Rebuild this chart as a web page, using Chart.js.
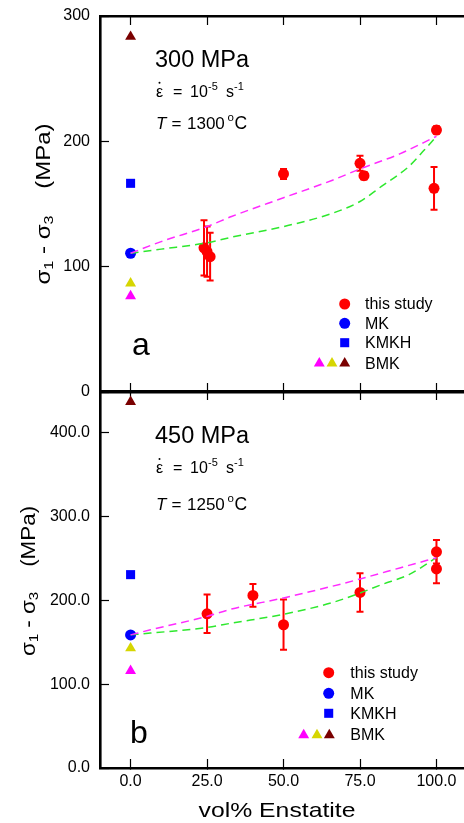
<!DOCTYPE html>
<html>
<head>
<meta charset="utf-8">
<script src="https://cdn.jsdelivr.net/npm/chart.js@4.4.0/dist/chart.umd.min.js"></script>
<style>
  html, body { margin: 0; padding: 0; background: #fff; }
  body { width: 464px; height: 823px; position: relative; overflow: hidden; }
  canvas { position: absolute; left: 0; }
  #chartA { top: 0; }
  #chartB { top: 384px; }
</style>
</head>
<body>
<canvas id="chartA" width="464" height="400"></canvas>
<canvas id="chartB" width="464" height="439"></canvas>
<script>
const FONT = "'Liberation Sans', Arial, Helvetica, sans-serif";

// x axis (vol% Enstatite)
const xMin = -10, xMax = 109, xStep = 25;

// panel a : 300 MPa, 1300 C
const studyA_x = [24, 25, 26, 50, 75, 76.3, 99.2, 100];
const studyA_y = [115, 112, 108, 174, 182.5, 172.6, 162.5, 209];
const studyA_err = [22, 20, 19, 4, 6, 3, 17, 3];
const mkA = [110.7];
const kmkhA = [166.5];
const bmkA = [76.6, 86.7, 283.5];
const pinkA_x = [0, 10, 25, 33, 50, 66, 75, 88, 100];
const pinkA_y = [110.7, 120, 132, 140, 155, 169, 178, 190, 204];
const greenA_x = [0, 10, 25, 33, 50, 66, 75, 82, 91, 96, 100];
const greenA_y = [110.7, 114, 119, 123.5, 132, 142.6, 152, 164, 180, 193, 204];

// panel b : 450 MPa, 1250 C
const studyB_x = [25, 40, 50, 75, 100, 100];
const studyB_y = [184, 206, 171, 209.6, 258, 237.6];
const studyB_err = [23, 13.5, 30, 23, 14, 17];
const mkB = [158.9];
const kmkhB = [230.8];
const bmkB = [116, 143, 437];
const pinkB_x = [0, 6.5, 25, 33, 50, 66, 75, 88, 100];
const pinkB_y = [158.9, 165, 181, 189.7, 203, 217, 225.6, 238.8, 251];
const greenB_x = [0, 6.5, 25, 33, 50, 66, 75, 82, 91, 100];
const greenB_y = [158.9, 161, 167.7, 172.9, 183.5, 197.5, 208.8, 218.8, 230.8, 251];

const bmkColors = ['#ff00ff', '#d6d600', '#7a0000'];

const pts = (xs, ys) => xs.map((x, i) => ({ x: x, y: ys[i] }));

function makeDatasets(sx, sy, serr, mk, kmkh, bmk, px, py, gx, gy) {
  return [
    { label: 'pink', data: pts(px, py), showLine: true, borderColor: '#ff2bff', borderWidth: 1.5,
      borderDash: [8, 5], pointRadius: 0, cubicInterpolationMode: 'monotone', order: 0 },
    { label: 'green', data: pts(gx, gy), showLine: true, borderColor: '#2ee82e', borderWidth: 1.5,
      borderDash: [8, 5], pointRadius: 0, cubicInterpolationMode: 'monotone', order: 0 },
    { label: 'this study', data: pts(sx, sy), errors: serr, pointStyle: 'circle', pointRadius: 5.5,
      backgroundColor: '#ff0000', borderWidth: 0, order: 1 },
    { label: 'MK', data: mk.map(v => ({ x: 0, y: v })), pointStyle: 'circle', pointRadius: 5.5,
      backgroundColor: '#0000ff', borderWidth: 0, order: 1 },
    { label: 'KMKH', data: kmkh.map(v => ({ x: 0, y: v })), pointStyle: 'rect', pointRadius: 6.4,
      backgroundColor: '#0000ff', borderWidth: 0, order: 1 },
    { label: 'BMK', data: bmk.map(v => ({ x: 0, y: v })), pointStyle: 'triangle', pointRadius: 6.3,
      backgroundColor: bmkColors, borderWidth: 0, order: 1 }
  ];
}

// error bars for "this study"
const errorBars = {
  id: 'errorBars',
  beforeDatasetsDraw(chart) {
    const ctx = chart.ctx;
    const y = chart.scales.y;
    chart.data.datasets.forEach((ds, i) => {
      if (!ds.errors) return;
      const meta = chart.getDatasetMeta(i);
      ctx.save();
      ctx.strokeStyle = '#ff0000';
      ctx.lineWidth = 2;
      meta.data.forEach((p, j) => {
        const v = ds.data[j].y, e = ds.errors[j];
        const top = y.getPixelForValue(v + e), bot = y.getPixelForValue(v - e);
        ctx.beginPath();
        ctx.moveTo(p.x, top); ctx.lineTo(p.x, bot);
        ctx.moveTo(p.x - 3.5, top); ctx.lineTo(p.x + 3.5, top);
        ctx.moveTo(p.x - 3.5, bot); ctx.lineTo(p.x + 3.5, bot);
        ctx.stroke();
      });
      ctx.restore();
    });
  }
};

function drawParts(ctx, bx, by, parts, sx) {
  parts.forEach(p => {
    ctx.save();
    ctx.translate(bx + p.dx, by + (p.dy || 0));
    ctx.scale(sx || 1, 1);
    ctx.font = (p.italic ? 'italic ' : '') + p.size + 'px ' + FONT;
    ctx.fillText(p.t, 0, 0);
    ctx.restore();
  });
}

function panelText(L) {
  return {
    id: 'panelText',
    afterDraw(chart) {
      const ctx = chart.ctx;
      ctx.save();
      ctx.fillStyle = '#000';
      ctx.textAlign = 'left';
      ctx.textBaseline = 'alphabetic';

      drawParts(ctx, L.tx - 1, L.pressY, [{ t: L.pressure, dx: 0, size: 23.5 }]);

      drawParts(ctx, L.tx, L.rateY, [
        { t: 'ε', dx: 0, size: 16 },
        { t: '=', dx: 17, size: 16 },
        { t: '10', dx: 34, size: 16 },
        { t: '-5', dx: 52, size: 11, dy: -7 },
        { t: 's', dx: 70, size: 16 },
        { t: '-1', dx: 78, size: 11, dy: -7 }
      ]);
      ctx.beginPath();
      ctx.arc(L.tx + 3.5, L.rateY - 14, 1, 0, Math.PI * 2);
      ctx.fill();

      drawParts(ctx, L.tx, L.tempY, [
        { t: 'T', dx: 0, size: 17, italic: true },
        { t: '=', dx: 15.5, size: 17 },
        { t: L.temp, dx: 31, size: 17 },
        { t: 'o', dx: 71.5, size: 11.5, dy: -8 },
        { t: 'C', dx: 78.5, size: 17.5 }
      ]);

      drawParts(ctx, L.letterX, L.letterY, [{ t: L.letter, dx: 0, size: 32 }]);

      // legend
      const H = Chart.helpers;
      const rows = L.legRows;
      ctx.font = '16px ' + FONT;
      ctx.textBaseline = 'middle';
      ['this study', 'MK', 'KMKH', 'BMK'].forEach((t, i) => ctx.fillText(t, L.legTextX, rows[i] + 1));
      ctx.fillStyle = '#ff0000';
      H.drawPoint(ctx, { pointStyle: 'circle', radius: 5.5, rotation: 0, borderWidth: 0 }, L.legX, rows[0]);
      ctx.fillStyle = '#0000ff';
      H.drawPoint(ctx, { pointStyle: 'circle', radius: 5.5, rotation: 0, borderWidth: 0 }, L.legX, rows[1]);
      H.drawPoint(ctx, { pointStyle: 'rect', radius: 6.4, rotation: 0, borderWidth: 0 }, L.legX, rows[2]);
      L.legTri.forEach((tx, i) => {
        ctx.fillStyle = bmkColors[i];
        H.drawPoint(ctx, { pointStyle: 'triangle', radius: 6.3, rotation: 0, borderWidth: 0 }, tx, rows[3]);
      });

      // y title (rotated)
      ctx.fillStyle = '#000';
      ctx.translate(L.yTitleX, L.yTitleY);
      ctx.rotate(-Math.PI / 2);
      ctx.scale(L.yTitleStretch, 1);
      const parts = [
        { t: 'σ', size: 20 }, { t: '1', size: 13.5, dy: 5 }, { t: ' - ', size: 20 },
        { t: 'σ', size: 20 }, { t: '3', size: 13.5, dy: 5 }, { t: '    (MPa)', size: 20 }
      ];
      let w = 0;
      parts.forEach(p => { ctx.font = p.size + 'px ' + FONT; p.dx = w; w += ctx.measureText(p.t).width; });
      drawParts(ctx, -w / 2, 0, parts);
      ctx.setTransform(1, 0, 0, 1, 0, 0);

      if (L.xTitle) {
        ctx.textAlign = 'center';
        ctx.textBaseline = 'alphabetic';
        ctx.translate(L.xTitleX, L.xTitleY);
        ctx.scale(1.18, 1);
        ctx.font = '21px ' + FONT;
        ctx.fillText(L.xTitle, 0, 0);
        ctx.setTransform(1, 0, 0, 1, 0, 0);
      }
      ctx.restore();
    }
  };
}

function xAxis(pos, labels, h) {
  return {
    type: 'linear', position: pos, min: xMin, max: xMax,
    border: { color: '#000', width: 2.6 },
    grid: { drawOnChartArea: false, drawTicks: true, tickLength: -9, tickColor: '#000', tickWidth: 1.2 },
    ticks: { display: labels, stepSize: xStep, includeBounds: false, autoSkip: false, maxRotation: 0,
      color: '#000', font: { family: FONT, size: 16 }, padding: 13, callback: v => v.toFixed(1) },
    afterFit: s => { s.height = h; s.paddingLeft = 0; s.paddingRight = 0; }
  };
}

function makePanel(id, yMax, decimals, topH, botH, showX, datasets, L) {
  return new Chart(document.getElementById(id), {
    type: 'scatter',
    data: { datasets: datasets },
    options: {
      responsive: false,
      animation: false,
      events: [],
      layout: { padding: 0, autoPadding: false },
      plugins: { legend: { display: false }, tooltip: { enabled: false } },
      scales: {
        x: xAxis('bottom', showX, botH),
        x2: xAxis('top', false, topH),
        y: {
          type: 'linear', position: 'left', min: 0, max: yMax,
          border: { color: '#000', width: 2.6 },
          grid: { drawOnChartArea: false, drawTicks: true, tickLength: -9, tickColor: '#000', tickWidth: 1.2 },
          ticks: { stepSize: 100, includeBounds: false, color: '#000', font: { family: FONT, size: 16 }, padding: 19,
            callback: v => v.toFixed(decimals) },
          afterFit: s => { s.width = 100; s.paddingTop = 0; s.paddingBottom = 0; }
        }
      }
    },
    plugins: [errorBars, panelText(L)]
  });
}

makePanel('chartA', 300, 0, 16, 8, false,
  makeDatasets(studyA_x, studyA_y, studyA_err, mkA, kmkhA, bmkA, pinkA_x, pinkA_y, greenA_x, greenA_y),
  { pressure: '300 MPa', temp: '1300', letter: 'a', tx: 156, pressY: 66.7, rateY: 96.7, tempY: 129.3,
    letterX: 132, letterY: 355, legX: 344.7, legTextX: 365, legRows: [304, 323.3, 342.7, 363.3],
    legTri: [319.3, 332, 344.7], yTitleX: 44, yTitleY: 204, yTitleStretch: 1.2 });

makePanel('chartB', 450, 1, 7, 55, true,
  makeDatasets(studyB_x, studyB_y, studyB_err, mkB, kmkhB, bmkB, pinkB_x, pinkB_y, greenB_x, greenB_y),
  { pressure: '450 MPa', temp: '1250', letter: 'b', tx: 156, pressY: 59, rateY: 89, tempY: 126,
    letterX: 130, letterY: 359, legX: 328.7, legTextX: 350.3, legRows: [288.7, 309.3, 329.3, 351],
    legTri: [303.7, 317, 329.3], yTitleX: 29, yTitleY: 197, yTitleStretch: 1.12,
    xTitle: 'vol% Enstatite', xTitleX: 277, xTitleY: 433 });
</script>
</body>
</html>
